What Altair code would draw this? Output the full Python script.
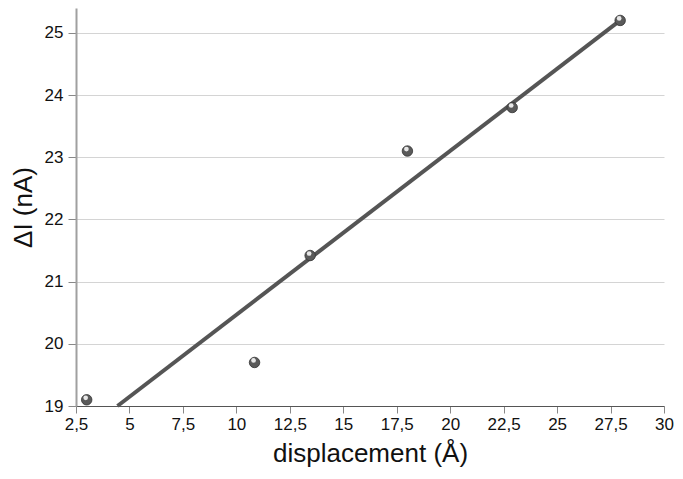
import altair as alt
import pandas as pd

# data
disp = [3.0, 10.85, 13.45, 18.0, 22.9, 27.95]
delta_i = [19.1, 19.7, 21.42, 23.1, 23.8, 25.2]
fit_x = [4.44, 27.95]
fit_y = [19.0, 25.2]
x_ticks = [2.5, 5, 7.5, 10, 12.5, 15, 17.5, 20, 22.5, 25, 27.5, 30]
y_ticks = [19, 20, 21, 22, 23, 24, 25]

pts = pd.DataFrame({"x": disp, "y": delta_i})
fit = pd.DataFrame({"x": fit_x, "y": fit_y})

xs = alt.Scale(domain=[2.5, 30], nice=False, zero=False)
ys = alt.Scale(domain=[19, 25.4], nice=False, zero=False)

xax = alt.Axis(values=x_ticks, labelExpr="replace(toString(datum.value), '.', ',')",
               title="displacement (Å)", grid=False, domainColor="#555", domainWidth=1,
               tickColor="#888", tickSize=7, labelFontSize=17, labelColor="#111",
               titleFontSize=26, titleFontWeight="normal", titleColor="#111",
               labelPadding=3, titlePadding=8, labelFlush=False)
yax = alt.Axis(values=y_ticks, format="d", title="ΔI (nA)", grid=True, gridColor="#d4d4d4",
               domainColor="#a0a0a0", domainWidth=2, tickColor="#888", tickSize=8,
               labelFontSize=17, labelColor="#111", titleFontSize=26,
               titleFontWeight="normal", titleColor="#111", labelPadding=5,
               titlePadding=8)

line = alt.Chart(fit).mark_line(color="#555555", strokeWidth=4).encode(
    x=alt.X("x:Q", scale=xs, axis=xax),
    y=alt.Y("y:Q", scale=ys, axis=yax),
)
dots = alt.Chart(pts).mark_circle(size=110, color="#5a5a5a", opacity=1,
                                  stroke="#333333", strokeWidth=0.8).encode(
    x=alt.X("x:Q", scale=xs), y=alt.Y("y:Q", scale=ys))
shine = alt.Chart(pts).mark_circle(size=22, color="#e8e8e8", opacity=1).encode(
    x=alt.X("x:Q", scale=xs), y=alt.Y("y:Q", scale=ys),
    xOffset=alt.value(-1), yOffset=alt.value(-2))

chart = alt.layer(line, dots, shine).properties(
    width=588, height=398,
    autosize=alt.AutoSizeParams(type="none"),
    padding={"left": 68, "top": 0, "right": 11, "bottom": 65},
    background="white",
).configure_view(stroke=None).configure_axis(labelFont="Liberation Sans", titleFont="Liberation Sans")

chart.save("out.html", embed_options={"renderer": "svg", "actions": False})
